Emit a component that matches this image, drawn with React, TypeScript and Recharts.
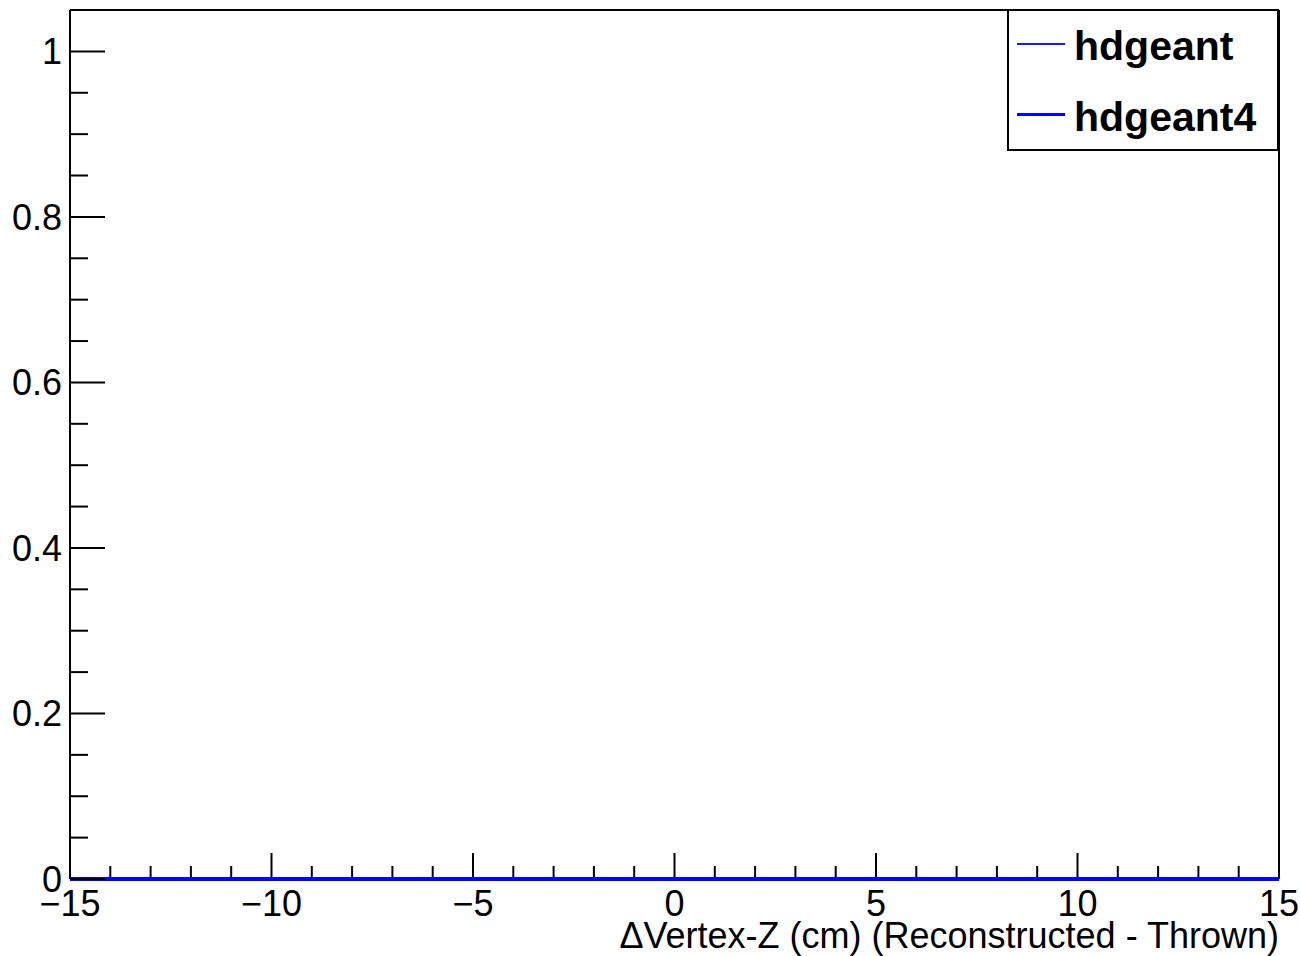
import { LineChart, Line, XAxis, YAxis, ReferenceLine, Legend } from 'recharts'

// bin centres of the ΔVertex-Z histogram (cm)
const binCenters = [
  -15, -14, -13, -12, -11, -10, -9, -8, -7, -6, -5, -4, -3, -2, -1, 0,
  1, 2, 3, 4, 5, 6, 7, 8, 9, 10, 11, 12, 13, 14, 15,
]
// both histograms are empty
const hdgeant = [
  0, 0, 0, 0, 0, 0, 0, 0, 0, 0, 0, 0, 0, 0, 0, 0,
  0, 0, 0, 0, 0, 0, 0, 0, 0, 0, 0, 0, 0, 0, 0,
]
const hdgeant4 = [
  0, 0, 0, 0, 0, 0, 0, 0, 0, 0, 0, 0, 0, 0, 0, 0,
  0, 0, 0, 0, 0, 0, 0, 0, 0, 0, 0, 0, 0, 0, 0,
]

const xTicks = [
  -15, -14, -13, -12, -11, -10, -9, -8, -7, -6, -5, -4, -3, -2, -1, 0,
  1, 2, 3, 4, 5, 6, 7, 8, 9, 10, 11, 12, 13, 14, 15,
]
const xMajorTicks = [-15, -10, -5, 0, 5, 10, 15]
const xMajorLabels = ['\u221215', '\u221210', '\u22125', '0', '5', '10', '15']

const yTicks = [
  0, 0.05, 0.1, 0.15, 0.2, 0.25, 0.3, 0.35, 0.4, 0.45, 0.5,
  0.55, 0.6, 0.65, 0.7, 0.75, 0.8, 0.85, 0.9, 0.95, 1,
]
const yMajorTicks = [0, 0.2, 0.4, 0.6, 0.8, 1]
const yMajorLabels = ['0', '0.2', '0.4', '0.6', '0.8', '1']

const xTitle = '\u0394Vertex-Z (cm) (Reconstructed - Thrown)'

const FONT = '"Liberation Sans", Arial, Helvetica, sans-serif'

const seriesStyle: Record<string, { color: string, width: number }> = {
  hdgeant: { color: '#1a1aff', width: 1.4 },
  hdgeant4: { color: '#0000ff', width: 4 },
}

const data = binCenters.map((x, i) => ({ x, hdgeant: hdgeant[i], hdgeant4: hdgeant4[i] }))

const majorIndex = (list: number[], v: number) =>
  list.findIndex((m) => Math.abs(m - v) < 1e-6)

const XTick = (props: any) => {
  const { x, y, payload } = props
  const i = majorIndex(xMajorTicks, payload.value)
  const len = i >= 0 ? 26 : 13
  return (
    <g>
      <line x1={x} x2={x} y1={y - 2} y2={y - len} stroke="#000" strokeWidth={2} />
      {i >= 0 && (
        <text x={x} y={y + 37} textAnchor="middle" fontSize={36} fontFamily={FONT} fill="#000">
          {xMajorLabels[i]}
        </text>
      )}
    </g>
  )
}

const YTick = (props: any) => {
  const { x, y, payload } = props
  const i = majorIndex(yMajorTicks, payload.value)
  const len = i >= 0 ? 35 : 18
  return (
    <g>
      <line x1={x} x2={x + len} y1={y} y2={y} stroke="#000" strokeWidth={2} />
      {i >= 0 && (
        <text x={x - 8} y={y + 13} textAnchor="end" fontSize={36} fontFamily={FONT} fill="#000">
          {yMajorLabels[i]}
        </text>
      )}
    </g>
  )
}

const XTitle = (props: any) => {
  const vb = props.viewBox
  return (
    <text x={vb.x + vb.width} y={vb.y + 69} textAnchor="end" fontSize={36} fontFamily={FONT} fill="#000">
      {xTitle}
    </text>
  )
}

const LegendBox = (props: any) => {
  const payload = props.payload || []
  return (
    <div style={{
      position: 'relative',
      width: 268,
      height: 138,
      border: '2px solid #000',
      background: '#fff',
      fontFamily: FONT,
    }}>
      {payload.map((p: any, idx: number) => {
        const st = seriesStyle[p.dataKey] || { color: p.color, width: 1 }
        const lineTop = idx === 0 ? 32 : 102
        const textTop = idx === 0 ? 15 : 86
        return (
          <div key={p.dataKey}>
            <div style={{
              position: 'absolute', left: 8, top: lineTop,
              width: 48, height: idx === 0 ? 1.5 : 3, background: st.color,
            }} />
            <div style={{
              position: 'absolute', left: 65, top: textTop,
              fontSize: 41, lineHeight: '40px', fontWeight: 700, color: '#000', whiteSpace: 'nowrap',
            }}>
              {p.value}
            </div>
          </div>
        )
      })}
    </div>
  )
}

export default function App() {
  return (
    <div style={{ position: 'absolute', left: 0, top: 0, width: 1300, height: 956, background: '#fff' }}>
      <LineChart width={1300} height={956} data={data} margin={{ top: 10, right: 21, bottom: 0, left: 0 }}>
        <XAxis
          dataKey="x" type="number" domain={[-15, 15]} ticks={xTicks} interval={0}
          height={77} axisLine={false} tickLine={false} tickSize={0} tickMargin={0}
          tick={<XTick />} label={<XTitle />}
        />
        <YAxis
          type="number" domain={[0, 1.05]} ticks={yTicks} interval={0}
          width={70} axisLine={false} tickLine={false} tickSize={0} tickMargin={0}
          tick={<YTick />}
        />
        {/* frame: top, left, right; the bottom edge is covered by the histograms */}
        <ReferenceLine y={1.05} stroke="#000" strokeWidth={2} />
        <ReferenceLine x={-15} stroke="#000" strokeWidth={2} />
        <ReferenceLine x={15} stroke="#000" strokeWidth={2} />
        <Legend
          layout="vertical" align="center" verticalAlign="middle"
          content={<LegendBox />}
          wrapperStyle={{ position: 'absolute', left: 1007, top: 9, width: 272, height: 142 }}
        />
        <Line type="linear" dataKey="hdgeant" name="hdgeant" stroke={seriesStyle.hdgeant.color}
          strokeWidth={seriesStyle.hdgeant.width} dot={false} activeDot={false} isAnimationActive={false} />
        <Line type="linear" dataKey="hdgeant4" name="hdgeant4" stroke={seriesStyle.hdgeant4.color}
          strokeWidth={seriesStyle.hdgeant4.width} dot={false} activeDot={false} isAnimationActive={false} />
      </LineChart>
    </div>
  )
}
